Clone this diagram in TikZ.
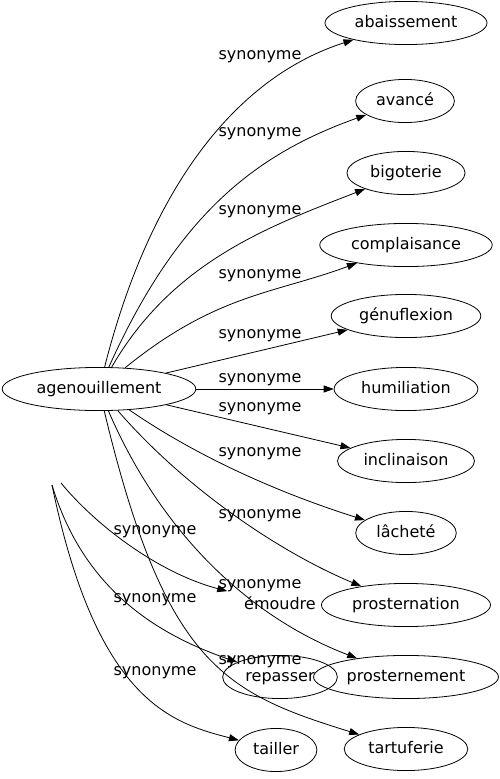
\documentclass[tikz,border=0pt]{standalone}
\usepackage{fontspec}
\setmainfont{DejaVu Sans}
\usepackage{tikz}
\usetikzlibrary{arrows.meta,shapes.geometric}

\begin{document}
\begin{tikzpicture}
   [x=1pt,y=-1pt,->,>={Triangle[length=10pt,width=7pt]},line width=0.8pt,
    every node/.style={font=\fontsize{16}{19}\selectfont,text height=12pt,text depth=3.5pt},
    word/.style={ellipse,draw,inner xsep=6pt,inner ysep=7.5pt},
    syn/.style={inner sep=0pt}]
   \useasboundingbox (0,0) rectangle (500,779);

   \node[word] (agen) at (99,389) {agenouillement};
   \node[word] (abai) at (406,23) {abaissement};
   \node[word] (avan) at (405,101) {avancé};
   \node[word] (bigo) at (406,173) {bigoterie};
   \node[word] (comp) at (406,245) {complaisance};
   \node[word] (genu) at (406,316) {génuflexion};
   \node[word] (humi) at (406,389) {humiliation};
   \node[word] (incl) at (406,461) {inclinaison};
   \node[word] (lach) at (406,533) {lâcheté};
   \node[word] (pros) at (406,605) {prosternation};
   \node[word] (prot) at (406,677) {prosternement};
   \node[word] (tart) at (406,749) {tartuferie};
   \node[word] (tail) at (276,750) {tailler};
   \node[word] (repa) at (280,677) {repasser};
   \node[word,draw=none,inner xsep=12pt] (emou) at (280,605) {émoudre};
   \coordinate (f1) at (61,483);
   \coordinate (f2) at (52,485);

   \node[syn] (s1) at (260,55) {synonyme};
   \node[syn] (s2) at (260,132) {synonyme};
   \node[syn] (s3) at (260,210) {synonyme};
   \node[syn] (s4) at (260,274) {synonyme};
   \node[syn] (s5) at (260,334) {synonyme};
   \node[syn] (s6) at (260,378) {synonyme};
   \node[syn] (s7) at (260,407) {synonyme};
   \node[syn] (s8) at (260,452) {synonyme};
   \node[syn] (s9) at (260,514) {synonyme};
   \node[syn] (s10) at (260,584) {synonyme};
   \node[syn] (s11) at (260,660) {synonyme};
   \node[syn] (s12) at (155,530) {synonyme};
   \node[syn] (s13) at (155,598) {synonyme};
   \node[syn] (s14) at (155,671) {synonyme};

   \draw (agen) .. controls (152,181) and (240,76) .. (abai);
   \draw (agen) .. controls (179,211) and (259,153) .. (avan);
   \draw (agen) .. controls (173,261) and (270,226) .. (bigo);
   \draw (agen) .. controls (216,294) and (273,294) .. (comp);
   \draw (agen) -- (genu);
   \draw (agen) -- (humi);
   \draw (agen) -- (incl);
   \draw (agen) .. controls (199,458) and (282,494) .. (lach);
   \draw (agen) .. controls (184,487) and (277,551) .. (pros);
   \draw (agen) .. controls (161,533) and (249,617) .. (prot);
   \draw (agen) .. controls (165,665) and (225,693) .. (tart);
   \draw (f1) .. controls (99,529) and (162,574) .. (emou);
   \draw (f2) .. controls (84,591) and (159,635) .. (repa);
   \draw (f2) .. controls (97,703) and (173,723) .. (tail);
\end{tikzpicture}
\end{document}
